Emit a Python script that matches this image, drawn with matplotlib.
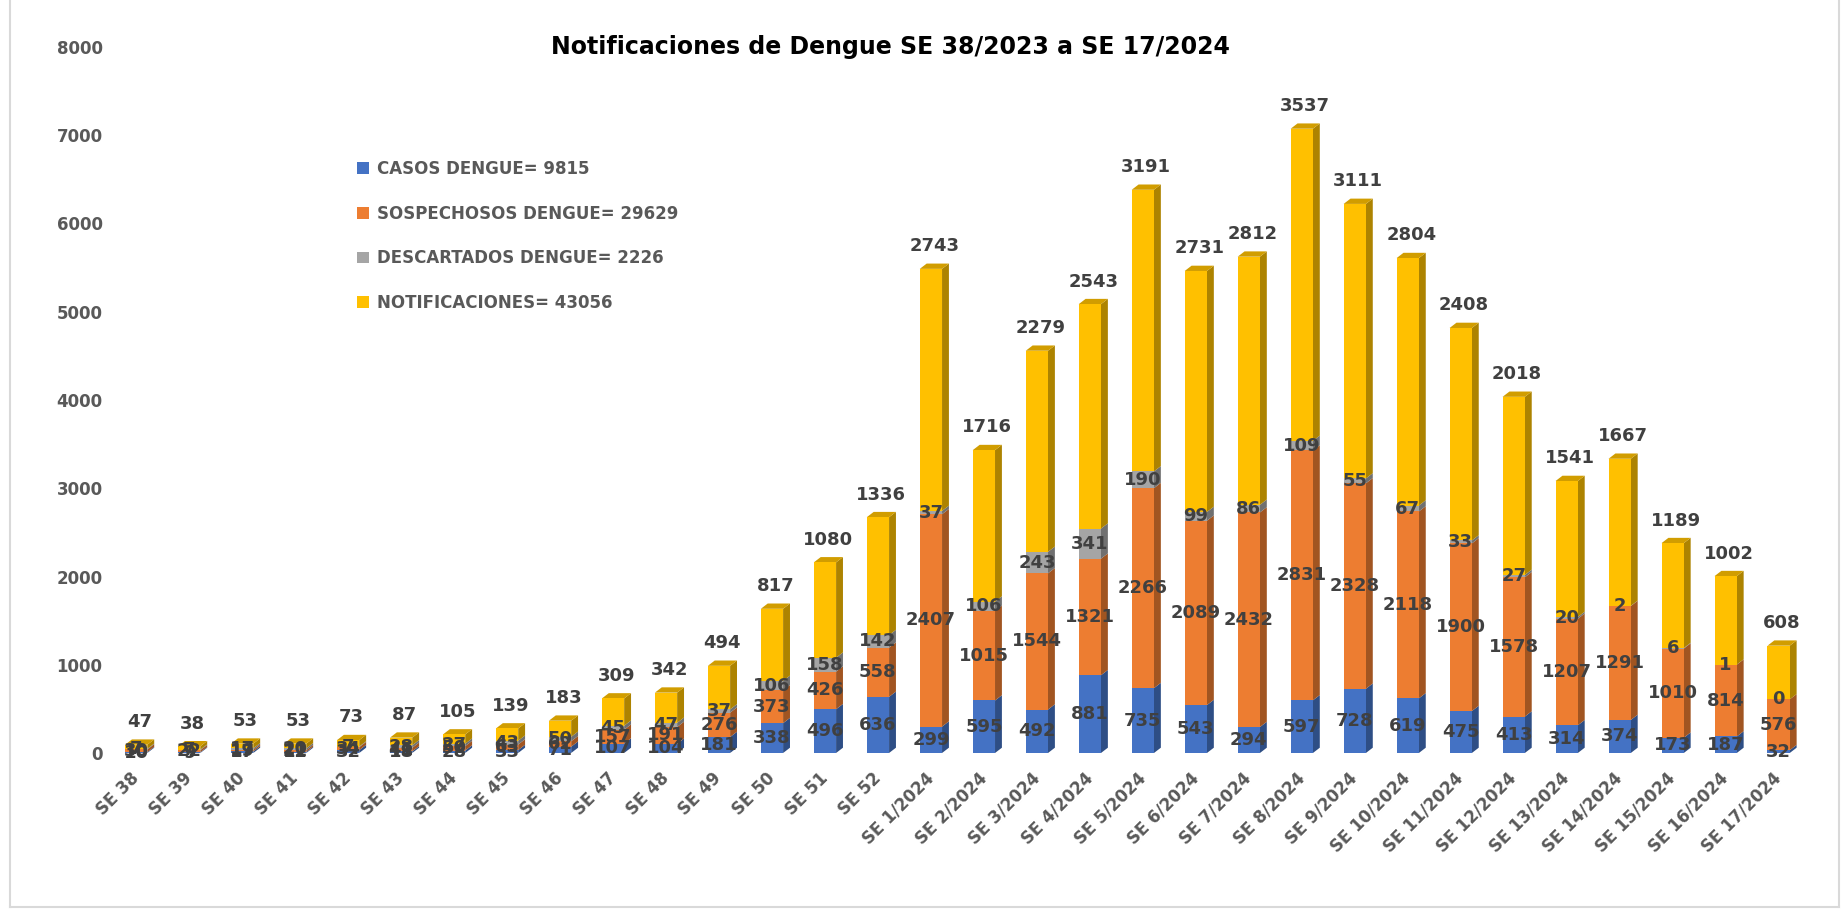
import numpy as np
import matplotlib.pyplot as plt
from matplotlib.patches import Polygon, Patch
from matplotlib.lines import Line2D
from matplotlib.colors import to_rgb

semanas = ['SE 38', 'SE 39', 'SE 40', 'SE 41', 'SE 42', 'SE 43', 'SE 44', 'SE 45',
           'SE 46', 'SE 47', 'SE 48', 'SE 49', 'SE 50', 'SE 51', 'SE 52',
           'SE 1/2024', 'SE 2/2024', 'SE 3/2024', 'SE 4/2024', 'SE 5/2024',
           'SE 6/2024', 'SE 7/2024', 'SE 8/2024', 'SE 9/2024', 'SE 10/2024',
           'SE 11/2024', 'SE 12/2024', 'SE 13/2024', 'SE 14/2024', 'SE 15/2024',
           'SE 16/2024', 'SE 17/2024']

casos = [10, 9, 17, 12, 32, 18, 28, 33, 71, 107, 104, 181, 338, 496, 636,
         299, 595, 492, 881, 735, 543, 294, 597, 728, 619, 475, 413, 314, 374, 173, 187, 32]
sospechosos = [30, 22, 19, 21, 34, 41, 50, 63, 62, 157, 191, 276, 373, 426, 558,
               2407, 1015, 1544, 1321, 2266, 2089, 2432, 2831, 2328, 2118, 1900, 1578,
               1207, 1291, 1010, 814, 576]
descartados = [7, 7, 17, 20, 7, 28, 27, 43, 50, 45, 47, 37, 106, 158, 142,
               37, 106, 243, 341, 190, 99, 86, 109, 55, 67, 33, 27, 20, 2, 6, 1, 0]
notificaciones = [47, 38, 53, 53, 73, 87, 105, 139, 183, 309, 342, 494, 817, 1080, 1336,
                  2743, 1716, 2279, 2543, 3191, 2731, 2812, 3537, 3111, 2804, 2408, 2018,
                  1541, 1667, 1189, 1002, 608]

series = [
    ('CASOS DENGUE= 9815', casos, '#4472C4'),
    ('SOSPECHOSOS DENGUE= 29629', sospechosos, '#ED7D31'),
    ('DESCARTADOS DENGUE= 2226', descartados, '#A5A5A5'),
    ('NOTIFICACIONES= 43056', notificaciones, '#FFC000'),
]

W, H = 1842, 911
fig = plt.figure(figsize=(W / 100, H / 100), dpi=100)
ax = fig.add_axes([115 / W, 158 / H, 1706 / W, 706 / H])

x = np.arange(len(semanas))
w = 0.42      # front face width
dx = 0.13     # depth offset (x units)
dy = 60       # depth offset (y units)
txt = '#404040'


def shade(c, f):
    r, g, b = to_rgb(c)
    return (r * f, g * f, b * f)


bottom = np.zeros(len(x))
for k, (name, vals, col) in enumerate(series):
    vals = np.array(vals, dtype=float)
    ax.bar(x, vals, w, bottom=bottom, color=col, zorder=3)
    for i in range(len(x)):
        y0, y1 = bottom[i], bottom[i] + vals[i]
        xr = x[i] + w / 2
        side = Polygon([(xr, y0), (xr + dx, y0 + dy), (xr + dx, y1 + dy), (xr, y1)],
                       closed=True, facecolor=shade(col, 0.68), edgecolor='none', zorder=2)
        ax.add_patch(side)
        if k == len(series) - 1:
            xl = x[i] - w / 2
            top = Polygon([(xl, y1), (xl + dx, y1 + dy), (xr + dx, y1 + dy), (xr, y1)],
                          closed=True, facecolor=shade(col, 0.82), edgecolor='none', zorder=2)
            ax.add_patch(top)
            ax.annotate(str(int(vals[i])), (x[i] + dx / 2, y1 + dy), xytext=(0, 6),
                        textcoords='offset points', ha='center', va='bottom',
                        fontsize=13, fontweight='bold', color=txt, zorder=5)
        else:
            ax.text(x[i], (y0 + y1) / 2, str(int(vals[i])), ha='center', va='center',
                    fontsize=13, fontweight='bold', color=txt, zorder=5)
    bottom = bottom + vals

ax.set_xlim(-0.4, 31.8)
ax.set_ylim(0, 8000)
ax.set_yticks(range(0, 8001, 1000))
ax.set_xticks(x)
ax.set_xticklabels(semanas, rotation=45, ha='right', va='center', rotation_mode='anchor')
for s in ax.spines.values():
    s.set_visible(False)
ax.tick_params(axis='both', length=0, labelcolor='#595959', labelsize=12)
ax.tick_params(axis='y', pad=9)
ax.tick_params(axis='x', pad=16)
for lab in ax.get_xticklabels() + ax.get_yticklabels():
    lab.set_fontweight('bold')

fig.text(890 / W, 1 - 47 / H, 'Notificaciones de Dengue SE 38/2023 a SE 17/2024',
         ha='center', va='center', fontsize=17, fontweight='bold', color='black')

handles = [Patch(facecolor=c, edgecolor='none', label=n) for n, _, c in series]
leg = fig.legend(handles=handles, loc='upper left', bbox_to_anchor=(342 / W, 1 - 145 / H),
                 frameon=False, handlelength=0.7, handleheight=0.7, handletextpad=0.5,
                 labelspacing=1.6, prop={'size': 12, 'weight': 'bold'})
for t in leg.get_texts():
    t.set_color('#595959')

# chart area border
fig.add_artist(Line2D([10 / W, 10 / W], [4 / H, 1], color='#d9d9d9', lw=1.5))
fig.add_artist(Line2D([10 / W, 1839 / W], [4 / H, 4 / H], color='#d9d9d9', lw=1.5))
fig.add_artist(Line2D([1839 / W, 1839 / W], [4 / H, 1], color='#d9d9d9', lw=1.5))

fig.savefig('out.png', dpi=100)
